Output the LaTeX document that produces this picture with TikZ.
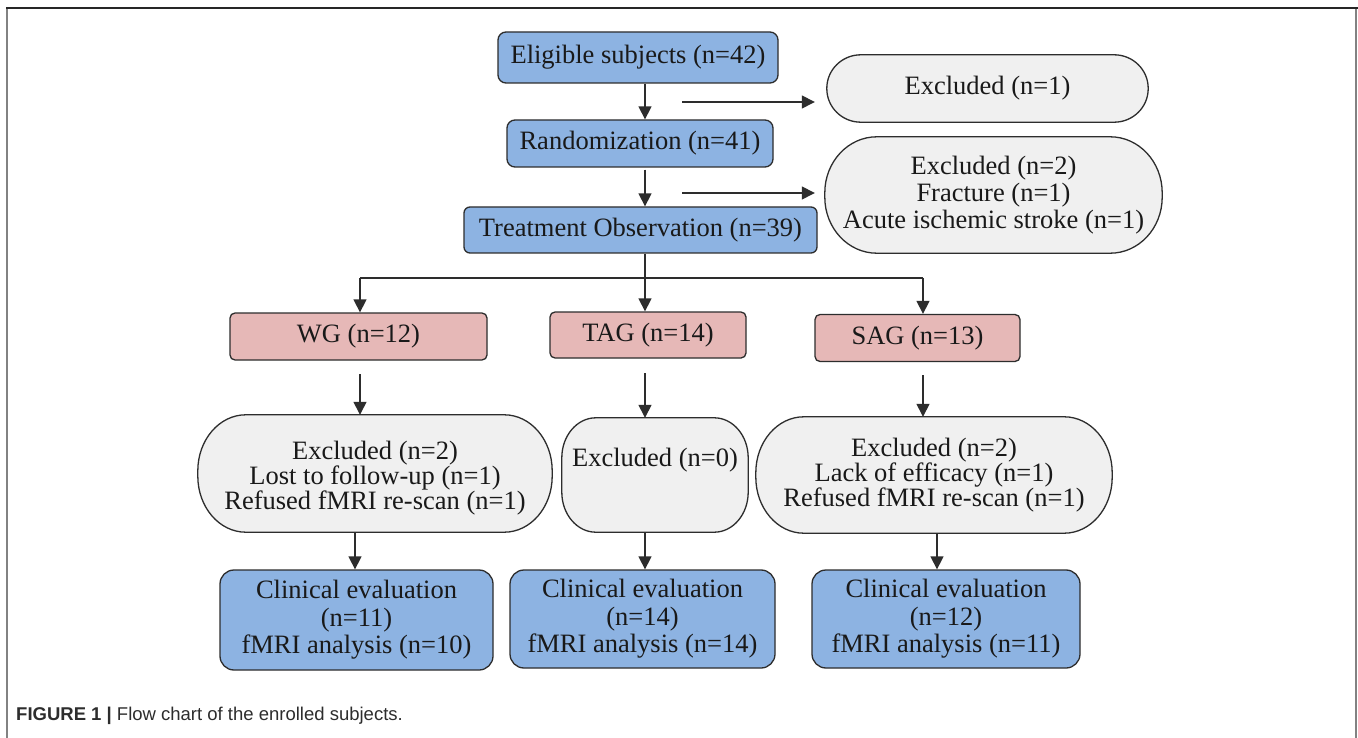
\documentclass[tikz,border=0pt]{standalone}
\usepackage{fontspec}
\setmainfont{Liberation Serif}
\newfontfamily\capfont{Liberation Sans}
\usetikzlibrary{arrows.meta,backgrounds,calc}
\definecolor{bluef}{RGB}{141,179,226}
\definecolor{pinkf}{RGB}{230,184,183}
\definecolor{grayf}{RGB}{240,240,240}
\definecolor{linec}{RGB}{45,45,45}
\definecolor{txt}{RGB}{25,25,25}
\definecolor{capc}{RGB}{45,45,45}
\definecolor{framel}{RGB}{130,130,130}
\newcommand{\exclshape}[3]{%
  \path[draw=linec, fill=grayf, line width=1.3pt] let \p1=(#1.south west), \p2=(#1.north east) in
    (\x1+#2,\y1) -- (\x2-#2,\y1)
    arc[start angle=-90, end angle=0, x radius=#2, y radius=#3]
    -- (\x2,\y2-#3)
    arc[start angle=0, end angle=90, x radius=#2, y radius=#3]
    -- (\x1+#2,\y2)
    arc[start angle=90, end angle=180, x radius=#2, y radius=#3]
    -- (\x1,\y1+#3)
    arc[start angle=180, end angle=270, x radius=#2, y radius=#3]
    -- cycle;}
\tikzset{
  mainfont/.style={font=\fontsize{26.5}{#1}\selectfont},
  bluebox/.style={draw=linec, fill=bluef, line width=1.3pt, rounded corners=8pt,
    inner sep=0pt, text=txt, align=center},
  pinkbox/.style={draw=linec, fill=pinkf, line width=1.3pt, rounded corners=5pt,
    inner sep=0pt, text=txt, align=center},
  softnode/.style={inner sep=0pt, text=txt, align=center},
  conn/.style={draw=linec, line width=1.4pt},
  arr/.style={draw=linec, line width=1.4pt, -{Triangle[length=13pt,width=13pt]}},
}
\begin{document}
\begin{tikzpicture}[x=1pt,y=1pt]
\useasboundingbox (0,0) rectangle (1358,-738);
% frame
\draw[framel, line width=2pt] (7,-738) -- (7,-8);
\draw[framel, line width=2pt] (1356,-738) -- (1356,-8);
\draw[black!85, line width=1.6pt] (6,-8) -- (1358,-8);

% top column
\node[bluebox, mainfont=28, minimum width=280pt, minimum height=51pt] (elig) at (638,-57.5) {Eligible subjects (n=42)};
\node[bluebox, mainfont=28, minimum width=266pt, minimum height=47pt] (rand) at (640,-143.5) {Randomization (n=41)};
\node[bluebox, mainfont=28, rounded corners=6pt, minimum width=353pt, minimum height=46pt] (treat) at (640.5,-230) {Treatment Observation (n=39)};

% top exclusions
\node[softnode, mainfont=28, minimum width=321pt, minimum height=67pt] (ex1) at (987.5,-88.5) {Excluded (n=1)};
\node[softnode, mainfont=27, minimum width=337pt, minimum height=116pt] (ex2) at (993.5,-195) {Excluded (n=2)\\Fracture (n=1)\\Acute ischemic stroke (n=1)};

% groups
\node[pinkbox, mainfont=28, minimum width=257pt, minimum height=47pt] (wg) at (358.5,-336.5) {WG (n=12)};
\node[pinkbox, mainfont=28, minimum width=196pt, minimum height=46pt] (tag) at (648,-335) {TAG (n=14)};
\node[pinkbox, mainfont=28, minimum width=205pt, minimum height=47pt] (sag) at (917.5,-338) {SAG (n=13)};

% group exclusions
\node[softnode, minimum width=354pt, minimum height=117pt] (exWG) at (375,-473.5) {};
\node[softnode, mainfont=22.5] (exWGt) at (375,-478) {Excluded (n=2)\\Lost to follow-up (n=1)\\Refused fMRI re-scan (n=1)};
\node[softnode, minimum width=186pt, minimum height=114pt] (exTAG) at (655,-475) {};
\node[softnode, mainfont=28] (exTAGt) at (655,-460) {Excluded (n=0)};
\node[softnode, minimum width=356pt, minimum height=116pt] (exSAG) at (934,-475) {};
\node[softnode, mainfont=23.5] (exSAGt) at (934,-475) {Excluded (n=2)\\Lack of efficacy (n=1)\\Refused fMRI re-scan (n=1)};

% clinical
\node[bluebox, mainfont=27.5, rounded corners=14pt, minimum width=273pt, minimum height=100pt] (clWG) at (356.5,-620) {Clinical evaluation\\(n=11)\\fMRI analysis (n=10)};
\node[bluebox, mainfont=27.5, rounded corners=14pt, minimum width=265pt, minimum height=98pt] (clTAG) at (642.5,-619) {Clinical evaluation\\(n=14)\\fMRI analysis (n=14)};
\node[bluebox, mainfont=27.5, rounded corners=14pt, minimum width=268pt, minimum height=98pt] (clSAG) at (946,-619) {Clinical evaluation\\(n=12)\\fMRI analysis (n=11)};

\begin{scope}[on background layer]
  \fill[white] (0,0) rectangle (1358,-738);
  \exclshape{ex1}{34pt}{33.5pt}
  \exclshape{ex2}{52pt}{56pt}
  \exclshape{exWG}{48pt}{56pt}
  \exclshape{exTAG}{34pt}{40pt}
  \exclshape{exSAG}{48pt}{56pt}
\end{scope}

% connectors
\coordinate (cx) at (645,0);
\draw[arr] (elig.south -| cx) -- (rand.north -| cx);
\draw[arr] ([yshift=-2pt]rand.south -| cx) -- (treat.north -| cx);
\coordinate (h1) at (682,-102);
\coordinate (h2) at (682,-193);
\draw[arr, shorten >=12pt] (h1) -- (h1 -| ex1.west);
\draw[arr, shorten >=10pt] (h2) -- (h2 -| ex2.west);

\coordinate (br) at (645,-278);
\coordinate (bW) at (360,-278);
\coordinate (bS) at (923,-278);
\draw[conn] (treat.south -| cx) -- (br);
\draw[conn] (bW) -- (bS);
\draw[arr] (bW) -- (bW |- wg.north);
\draw[arr] (br) -- (br |- tag.north);
\draw[arr] (bS) -- (bS |- sag.north);

\coordinate (pW) at (360,-374);
\coordinate (pT) at (645,-373);
\coordinate (pS) at (923,-375);
\draw[arr] (pW) -- (pW |- exWG.north);
\draw[arr] (pT) -- (pT |- exTAG.north);
\draw[arr] (pS) -- (pS |- exSAG.north);

\coordinate (qW) at (355,0);
\coordinate (qT) at (645,0);
\coordinate (qS) at (937,0);
\draw[arr] (exWG.south -| qW) -- (clWG.north -| qW);
\draw[arr] (exTAG.south -| qT) -- (clTAG.north -| qT);
\draw[arr] (exSAG.south -| qS) -- (clSAG.north -| qS);

% caption
\node[anchor=base west, inner sep=0pt, text=capc, font=\capfont\fontsize{18.5}{20}\selectfont] (cap) at (16,-720) {\textbf{FIGURE 1 |} Flow chart of the enrolled subjects.};
\end{tikzpicture}
\end{document}
